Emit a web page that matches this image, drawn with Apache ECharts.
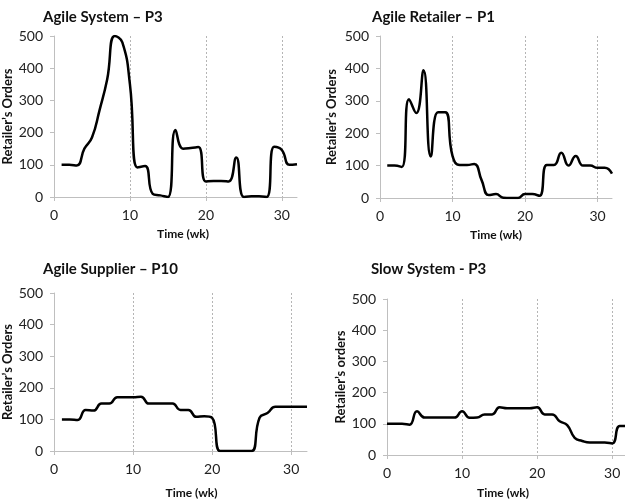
<!DOCTYPE html>
<html>
<head>
<meta charset="utf-8">
<script src="https://cdn.jsdelivr.net/npm/echarts@6/dist/echarts.min.js"></script>
<style>
  html, body { margin: 0; padding: 0; background: #fff; }
  #main { width: 625px; height: 500px; }
</style>
</head>
<body>
<div id="main"></div>
<script>
// 数据
const weeks = [1, 2, 3, 4, 5, 6, 7, 8, 9, 10, 11, 12, 13, 14, 15, 16, 17, 18, 19, 20, 21, 22, 23, 24, 25, 26, 27, 28, 29, 30, 31, 32];
const weeksSlow = [0, 1, 2, 3, 4, 5, 6, 7, 8, 9, 10, 11, 12, 13, 14, 15, 16, 17, 18, 19, 20, 21, 22, 23, 24, 25, 26, 27, 28, 29, 30, 31, 32];
const agileSystemP3 = [100, 100, 98, 150, 185, 270, 365, 500, 480, 350, 92, 96, 10, 5, 0, 208, 150, 152, 155, 48, 50, 50, 48, 123, 0, 2, 2, 0, 156, 146, 100, 102];
const agileRetailerP1 = [100, 100, 96, 305, 262, 394, 128, 265, 265, 130, 102, 102, 105, 56, 9, 12, 1, 0, 0, 12, 12, 7, 102, 102, 140, 100, 130, 100, 100, 93, 93, 75];
const agileSupplierP10 = [100, 100, 98, 130, 128, 150, 150, 170, 170, 170, 172, 150, 150, 150, 150, 130, 130, 108, 110, 105, 0, 0, 0, 0, 0, 105, 120, 140, 140, 140, 140, 140];
const slowSystemP3 = [100, 100, 100, 97, 140, 120, 120, 120, 120, 120, 140, 119, 120, 130, 130, 153, 150, 150, 150, 150, 153, 130, 130, 108, 96, 55, 45, 40, 40, 40, 37, 93, 93];
const titles = ['Agile System – P3', 'Agile Retailer – P1', 'Agile Supplier – P10', 'Slow System - P3'];
const yNames = ['Retailer’s Orders', 'Retailer’s Orders', 'Retailer’s Orders', 'Retailer’s orders'];
const xTicks = [0, 10, 20, 30];

const FONT = 'Lato';

// 每个小图的位置
const panels = [
  { left: 54, top: 36, width: 243, height: 161, max: 32, yGap: 38, xGap: 31, xShift: 15, titleLeft: 38, titleTop: 5 },
  { left: 380, top: 36, width: 232, height: 162, max: 32, yGap: 42, xGap: 31, xShift: 0, titleLeft: 367, titleTop: 5 },
  { left: 54, top: 293, width: 253, height: 160, max: 32, yGap: 38, xGap: 36, xShift: 22, titleLeft: 38, titleTop: 257 },
  { left: 387, top: 299, width: 238, height: 160, max: 31.7, yGap: 40, xGap: 32, xShift: -6, titleLeft: 366, titleTop: 257 }
];

const seriesData = [
  weeks.map((w, i) => [w, agileSystemP3[i]]),
  weeks.map((w, i) => [w, agileRetailerP1[i]]),
  weeks.map((w, i) => [w, agileSupplierP10[i]]),
  weeksSlow.map((w, i) => [w, slowSystemP3[i]])
];

let chart = echarts.init(document.getElementById('main'));
let option = {
  animation: false,
  backgroundColor: '#fff',
  title: panels.map((p, i) => ({
    text: titles[i],
    left: p.titleLeft,
    top: p.titleTop,
    textStyle: { fontFamily: FONT, fontSize: 15, fontWeight: 'bold', color: '#111' }
  })),
  grid: panels.map(p => ({ left: p.left, top: p.top, width: p.width, height: p.height })),
  xAxis: panels.map((p, i) => ({
    type: 'value',
    gridIndex: i,
    min: 0,
    max: p.max,
    interval: 10,
    name: 'Time (wk)',
    nameLocation: 'middle',
    nameGap: p.xGap,
    nameTextStyle: {
      fontFamily: FONT, fontSize: 12, fontWeight: 'bold', color: '#111',
      padding: p.xShift > 0 ? [0, 0, 0, p.xShift] : [0, -p.xShift, 0, 0]
    },
    axisLine: { lineStyle: { color: '#bfbfbf', width: 1 } },
    axisTick: { show: true, length: 4, customValues: xTicks, lineStyle: { color: '#bfbfbf' } },
    axisLabel: { customValues: xTicks, margin: 11, fontFamily: FONT, fontSize: 14, color: '#222' },
    // 竖向虚线
    splitLine: {
      show: true,
      showMinLine: false,
      lineStyle: { color: '#b5b5b5', type: [2, 2], width: 1 }
    }
  })),
  yAxis: panels.map((p, i) => ({
    type: 'value',
    gridIndex: i,
    min: 0,
    max: 500,
    interval: 100,
    name: yNames[i],
    nameLocation: 'middle',
    nameGap: p.yGap,
    nameTextStyle: { fontFamily: FONT, fontSize: 13, fontWeight: 'bold', color: '#111' },
    axisLine: { show: true, lineStyle: { color: '#bfbfbf', width: 1 } },
    axisTick: { show: true, length: 4, lineStyle: { color: '#bfbfbf' } },
    axisLabel: { margin: 11, fontFamily: FONT, fontSize: 14, color: '#222' },
    splitLine: { show: false }
  })),
  series: seriesData.map((d, i) => ({
    type: 'line',
    xAxisIndex: i,
    yAxisIndex: i,
    data: d,
    smooth: 0.5,
    showSymbol: false,
    clip: true,
    lineStyle: { color: '#000', width: 2.5 }
  }))
};
chart.setOption(option);
</script>
</body>
</html>
